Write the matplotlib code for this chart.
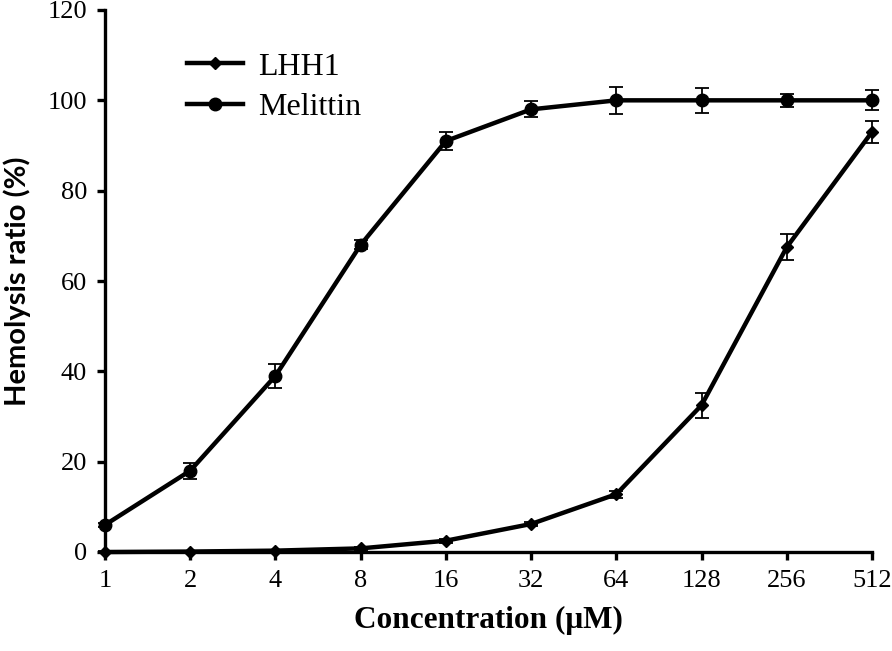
import matplotlib.pyplot as plt

concentrations = ["1", "2", "4", "8", "16", "32", "64", "128", "256", "512"]
lhh1 = [0.0, 0.1, 0.3, 0.8, 2.5, 6.2, 12.8, 32.5, 67.5, 93.0]
lhh1_err = [0.2, 0.2, 0.2, 0.3, 0.4, 0.5, 0.8, 2.8, 2.8, 2.5]
melittin = [6.0, 18.0, 39.0, 68.0, 91.0, 98.0, 100.0, 100.0, 100.0, 100.0]
melittin_err = [0.5, 1.8, 2.6, 1.0, 2.0, 1.8, 3.0, 2.7, 1.5, 2.2]

plt.rcParams["font.family"] = ["Liberation Serif", "DejaVu Serif"]

fig = plt.figure(figsize=(8.92, 6.51), dpi=100)
ax = fig.add_axes([105 / 892, 99 / 651, 767 / 892, 542 / 651])

x = list(range(len(concentrations)))

# error bars first, lines + markers on top
for values, errors in ((lhh1, lhh1_err), (melittin, melittin_err)):
    ax.errorbar(
        x, values, yerr=errors, fmt="none",
        ecolor="black", elinewidth=1.3, capsize=5, capthick=1.3,
        clip_on=False, zorder=2,
    )

ax.plot(x, lhh1, color="black", lw=3.2, marker="D", markersize=6.5,
        label="LHH1", clip_on=False, zorder=3)
ax.plot(x, melittin, color="black", lw=3.2, marker="o", markersize=9,
        label="Melittin", clip_on=False, zorder=3)

ax.set_xlim(0, 9)
ax.set_ylim(0, 120)
ax.set_xticks(x)
ax.set_xticklabels(concentrations)
ax.set_yticks(range(0, 121, 20))

for side in ("top", "right"):
    ax.spines[side].set_visible(False)
for side in ("left", "bottom"):
    ax.spines[side].set_linewidth(2.4)

ax.tick_params(axis="both", direction="out", length=6, width=2.4,
               labelsize=19, pad=7)

ax.set_xlabel("Concentration (μM)", fontsize=22.5, fontweight="bold",
              labelpad=10)
ax.set_ylabel("Hemolysis ratio (%)", fontsize=21, fontweight="bold",
              family="Lato", labelpad=12)

ax.legend(
    loc="upper left", bbox_to_anchor=(0.07, 0.975), frameon=False,
    fontsize=23, handlelength=1.75, handletextpad=0.45, labelspacing=0.35,
)

plt.savefig("out.png", dpi=100)
plt.close()
